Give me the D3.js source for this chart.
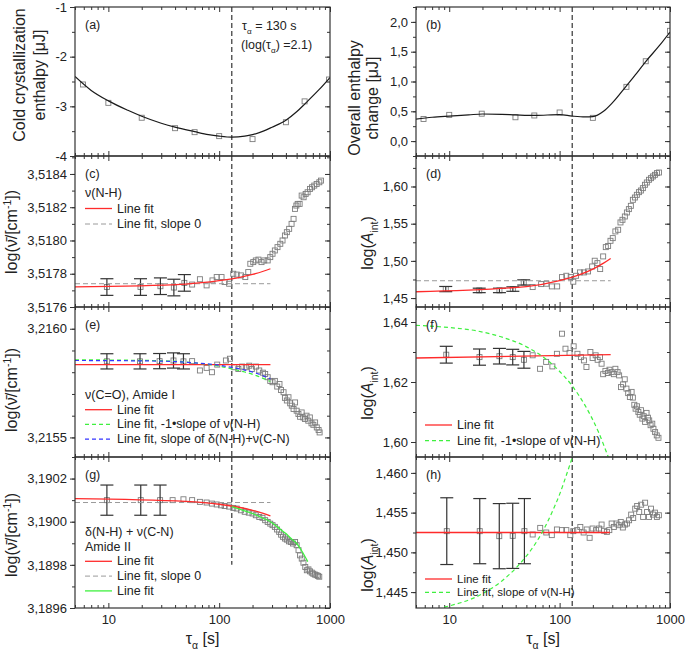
<!DOCTYPE html>
<html>
<head>
<meta charset="utf-8">
<script src="https://cdn.jsdelivr.net/npm/d3@7"></script>
<style>
  body { margin: 0; background: #fff; }
  svg { font-family: "Liberation Sans", Arial, sans-serif; }
</style>
</head>
<body>
<svg id="chart"></svg>
<script>
// ---- shared x axis ----
const tauDomain = [5, 1000];
const xMajor = [10, 100, 1000];
const tauAlpha = 130;

// ---- (a) cold crystallization enthalpy ----
const aTicks = [-4, -3, -2, -1];
const aPtsTau = [5.9, 10, 20, 40, 60, 100, 200, 400, 590, 980];
const aPtsVal = [-2.56, -2.93, -3.23, -3.44, -3.52, -3.60, -3.66, -3.32, -2.90, -2.46];
const aFitTau = [5, 7, 10, 15, 20, 30, 40, 60, 80, 100, 130, 170, 200, 250, 300, 400, 500, 600, 800, 1000];
const aFitVal = [-2.40, -2.68, -2.89, -3.08, -3.20, -3.34, -3.42, -3.51, -3.57, -3.60, -3.62, -3.60, -3.57, -3.50, -3.42, -3.28, -3.11, -2.94, -2.66, -2.42];

// ---- (b) overall enthalpy change ----
const bTicks = [0, 0.5, 1, 1.5, 2];
const bPtsTau = [5.85, 10, 19.7, 39.8, 59, 100, 200, 403, 603, 1000];
const bPtsVal = [0.37, 0.44, 0.46, 0.40, 0.43, 0.48, 0.39, 0.91, 1.34, 1.85];
const bFitTau = [5, 7, 10, 15, 20, 30, 40, 60, 100, 130, 170, 200, 250, 300, 400, 500, 600, 800, 1000];
const bFitVal = [0.37, 0.40, 0.42, 0.44, 0.455, 0.45, 0.44, 0.43, 0.445, 0.42, 0.405, 0.41, 0.50, 0.64, 0.92, 1.14, 1.33, 1.60, 1.83];

// ---- (c) nu(N-H) position ----
const cTicks = [3.5176, 3.5178, 3.518, 3.5182, 3.5184];
const cErrTau = [9.7, 19.5, 29.5, 39, 48.5];
const cErrVal = [3.51772, 3.51772, 3.517725, 3.517717, 3.517745];
const cErrBar = [0.00005, 0.00005, 0.00005, 0.00005, 0.00005];
const cPtsTau = [57, 67, 77, 87, 95, 105, 112, 123, 134, 144, 157, 172, 183, 191, 203, 214, 226, 241, 255, 274, 289, 303, 318, 336, 356, 373, 392, 408, 428, 450, 469, 483, 497, 511, 532, 555, 578, 603, 628, 660, 688, 721, 758, 801, 830];
const cPtsVal = [3.517735, 3.517767, 3.51773, 3.51776, 3.51778, 3.51778, 3.51775, 3.51774, 3.5178, 3.517795, 3.51779, 3.51778, 3.51781, 3.51786, 3.51787, 3.51788, 3.517885, 3.51787, 3.51788, 3.51788, 3.5179, 3.51792, 3.51794, 3.51796, 3.51798, 3.5180, 3.51803, 3.51805, 3.51807, 3.5181, 3.51813, 3.51819, 3.51821, 3.51822, 3.51822, 3.51827, 3.51826, 3.51828, 3.51829, 3.51831, 3.51832, 3.51833, 3.51834, 3.51835, 3.51836];
const cFitTau = [5, 50, 100, 150, 200, 250, 290];
const cFitVal = [3.517721, 3.517738, 3.517758, 3.517777, 3.517796, 3.517815, 3.51783];
const cZeroTau = [5, 290];
const cZeroVal = [3.51774, 3.51774];
const cLegend = ['ν(N-H)', 'Line fit', 'Line fit, slope 0'];

// ---- (d) nu(N-H) intensity ----
const dTicks = [1.45, 1.5, 1.55, 1.6];
const dErrTau = [9.3, 18.7, 28.5, 37.7, 47.3];
const dErrVal = [1.4621, 1.4603, 1.4603, 1.4621, 1.471];
const dErrBar = [0.0035, 0.003, 0.003, 0.003, 0.0035];
const dPtsTau = [57, 68, 76, 85, 95, 105, 115, 126, 133, 141, 153, 166, 181, 197, 208, 220, 233, 248, 262, 275, 289, 303, 320, 339, 356, 371, 390, 407, 424, 442, 461, 481, 501, 523, 545, 568, 593, 617, 645, 672, 700, 731, 762, 795];
const dPtsVal = [1.4648, 1.4688, 1.4693, 1.4657, 1.4657, 1.4782, 1.480, 1.4782, 1.472, 1.480, 1.4845, 1.4845, 1.4858, 1.4925, 1.5002, 1.497, 1.489, 1.506, 1.5185, 1.520, 1.527, 1.5306, 1.5396, 1.5418, 1.5517, 1.5552, 1.5597, 1.5651, 1.5696, 1.574, 1.5821, 1.5852, 1.5888, 1.5924, 1.5946, 1.5978, 1.6023, 1.6054, 1.609, 1.6112, 1.6135, 1.6157, 1.618, 1.6188];
const dFitTau = [5, 50, 100, 150, 200, 250, 290];
const dFitVal = [1.4585, 1.4655, 1.4733, 1.4812, 1.489, 1.497, 1.5033];
const dZeroTau = [5, 290];
const dZeroVal = [1.4733, 1.4733];

// ---- (e) nu(C=O) Amide I position ----
const eTicks = [3.2155, 3.216];
const eErrTau = [9.7, 19.3, 29, 38.7, 47.6];
const eErrVal = [3.21585, 3.21585, 3.215851, 3.215854, 3.21585];
const eErrBar = [0.000035, 0.000035, 0.000035, 0.000035, 0.000035];
const ePtsTau = [57, 67, 77, 86, 96, 115, 125, 137, 149, 161, 174, 187, 197, 215, 230, 248, 260, 274, 289, 303, 318, 334, 350, 361, 381, 392, 408, 422, 437, 452, 469, 484, 500, 519, 537, 555, 574, 594, 614, 637, 658, 681, 708, 734, 760, 789, 806];
const ePtsVal = [3.215851, 3.215808, 3.21582, 3.2158, 3.215835, 3.215854, 3.215862, 3.215823, 3.215815, 3.215826, 3.215823, 3.21583, 3.215815, 3.215826, 3.215808, 3.215798, 3.215792, 3.215777, 3.21576, 3.215754, 3.21576, 3.215734, 3.215746, 3.215718, 3.215708, 3.215682, 3.21567, 3.215685, 3.215657, 3.215646, 3.215631, 3.215661, 3.215623, 3.215608, 3.215595, 3.215615, 3.215592, 3.215585, 3.2156, 3.215577, 3.215592, 3.215565, 3.215558, 3.215569, 3.215546, 3.215534, 3.215523];
const eFitTau = [5, 290];
const eFitVal = [3.215835, 3.215835];
const eSlopeTau = [5, 30, 60, 100, 130, 170, 220, 290];
const eGreenVal = [3.215857, 3.215853, 3.215843, 3.215828, 3.215815, 3.215801, 3.215783, 3.215757];
const eBlueVal = [3.215854, 3.215851, 3.215843, 3.215832, 3.215822, 3.21581, 3.215794, 3.21577];
const eLegend = ['ν(C=O), Amide I', 'Line fit', 'Line fit, -1•slope of ν(N-H)', 'Line fit, slope of δ(N-H)+ν(C-N)'];

// ---- (f) nu(C=O) intensity ----
const fTicks = [1.6, 1.62, 1.64];
const fErrTau = [9.4, 18.8, 28.5, 37.6, 47.5];
const fErrVal = [1.6291, 1.6283, 1.6286, 1.6283, 1.6274];
const fErrBar = [0.0028, 0.0027, 0.0026, 0.0026, 0.0028];
const fPtsTau = [57, 66.5, 75.5, 86, 94.5, 105, 113, 123, 134, 145, 156, 166, 175, 190, 199, 212, 221, 232, 240, 248, 260, 273, 283, 296, 310, 320, 335, 346, 360, 376, 389, 403, 418, 433, 449, 461, 475, 488, 502, 517, 532, 546, 562, 578, 595, 613, 631, 648, 667, 691, 708, 733, 759, 786];
const fPtsVal = [1.6289, 1.6244, 1.6267, 1.6252, 1.6294, 1.6361, 1.6311, 1.6297, 1.6319, 1.6294, 1.6283, 1.6272, 1.625, 1.63, 1.628, 1.6289, 1.6274, 1.6283, 1.6261, 1.6226, 1.6237, 1.623, 1.6241, 1.6233, 1.6226, 1.6244, 1.6233, 1.6222, 1.6183, 1.6192, 1.6209, 1.6178, 1.6163, 1.615, 1.6167, 1.6148, 1.6124, 1.6111, 1.6119, 1.61, 1.6091, 1.6106, 1.6078, 1.6086, 1.6067, 1.6097, 1.6081, 1.6072, 1.6056, 1.6061, 1.6044, 1.6033, 1.6022, 1.6014];
const fFitTau = [5, 290];
const fFitVal = [1.628, 1.6291];
const fGreenTau = [5, 9, 18, 31, 48.5, 73, 96, 130, 170, 225, 276];
const fGreenVal = [1.6389, 1.6383, 1.637, 1.6348, 1.632, 1.628, 1.6242, 1.6187, 1.6122, 1.6033, 1.595];
const fLegend = ['Line fit', 'Line fit, -1•slope of ν(N-H)'];

// ---- (g) delta(N-H)+nu(C-N) Amide II position ----
const gTicks = [3.1896, 3.1898, 3.19, 3.1902];
const gErrTau = [9.7, 19.6, 29.3];
const gErrVal = [3.1901, 3.1901, 3.1901];
const gErrBar = [0.00007, 0.00007, 0.00007];
const gPtsTau = [38, 47.6, 57, 67, 77, 86, 95, 104, 112, 123, 134, 144, 157, 170, 185, 200, 214, 230, 246, 260, 274, 289, 303, 318, 333, 348, 362, 376, 392, 408, 426, 444, 464, 484, 500, 520, 537, 556, 576, 598, 618, 639, 660, 685, 706, 730, 756, 780, 800];
const gPtsVal = [3.1901, 3.190104, 3.1901, 3.190092, 3.190089, 3.190084, 3.19008, 3.190076, 3.190073, 3.19007, 3.190064, 3.190061, 3.190053, 3.190046, 3.190042, 3.190038, 3.19003, 3.190022, 3.190018, 3.190007, 3.189999, 3.189991, 3.189984, 3.189976, 3.189964, 3.189953, 3.18994, 3.18993, 3.189922, 3.189917, 3.189909, 3.189906, 3.189899, 3.189906, 3.189891, 3.189868, 3.189844, 3.189829, 3.18981, 3.18979, 3.189775, 3.189779, 3.18977, 3.189764, 3.189759, 3.189755, 3.189752, 3.189749, 3.189745];
const gFitTau = [5, 50, 100, 150, 200, 250, 290];
const gFitVal = [3.190107, 3.190094, 3.190081, 3.190067, 3.190053, 3.190039, 3.190027];
const gZeroTau = [5, 290];
const gZeroVal = [3.190089, 3.190089];
const gGreenTau = [130, 160, 200, 250, 290, 350, 400, 450, 500, 560, 630];
const gGreenVal = [3.19007, 3.190055, 3.190038, 3.190016, 3.19, 3.189968, 3.189945, 3.18992, 3.189899, 3.189862, 3.189815];
const gLegend = ['δ(N-H) + ν(C-N)', 'Amide II', 'Line fit', 'Line fit, slope 0', 'Line fit'];

// ---- (h) Amide II intensity ----
const hTicks = [1.445, 1.45, 1.455, 1.46];
const hErrTau = [9.5, 18.9, 28.4, 37.6, 48];
const hErrVal = [1.45267, 1.45267, 1.45204, 1.45208, 1.45267];
const hErrBar = [0.0042, 0.0041, 0.0041, 0.0041, 0.0041];
const hPtsTau = [57, 66.7, 75.7, 85, 94.5, 105, 115, 125, 133, 144, 154, 165, 176, 187, 199, 214, 227, 240, 253, 268, 282, 296, 310, 328, 343, 358, 374, 391, 408, 426, 445, 464, 484, 504, 526, 548, 571, 595, 620, 646, 673, 701, 730, 761, 793];
const hPtsVal = [1.45225, 1.45308, 1.4525, 1.45217, 1.45288, 1.4528, 1.4528, 1.45217, 1.45267, 1.4528, 1.4532, 1.4525, 1.45288, 1.45183, 1.453, 1.4528, 1.453, 1.4535, 1.45271, 1.45258, 1.4528, 1.45363, 1.4532, 1.45363, 1.45342, 1.45383, 1.45313, 1.4535, 1.45363, 1.45404, 1.45475, 1.45433, 1.4555, 1.45583, 1.45508, 1.456, 1.45446, 1.45625, 1.45508, 1.45446, 1.4555, 1.45475, 1.455, 1.45446, 1.45467];
const hFitTau = [5, 285];
const hFitVal = [1.4525, 1.4525];
const hGreenTau = [9, 20, 30, 40, 55, 70, 85, 100, 115, 132];
const hGreenVal = [1.4431, 1.4448, 1.4464, 1.448, 1.4503, 1.4526, 1.455, 1.4573, 1.4597, 1.4622];
const hLegend = ['Line fit', 'Line fit, slope of ν(N-H)'];

// ---------------------------------------------------------------
const W = 685, H = 651;
const svg = d3.select('#chart').attr('width', W).attr('height', H);
const ink = '#222';

const cols = [[75, 330], [416, 670]];
const rows = [[7, 156], [156, 307], [307, 457], [457, 608]];

const styles = {
  black: { color: '#1a1a1a', dash: null, w: 1.2 },
  red: { color: '#ff2b2b', dash: null, w: 1.3 },
  gray: { color: '#9a9a9a', dash: '5,3', w: 1 },
  green: { color: '#3ff03f', dash: '4,3', w: 1.2 },
  greenSolid: { color: '#3ff03f', dash: null, w: 1.3 },
  blue: { color: '#3535ff', dash: '4,3', w: 1.2 }
};

const locale = d3.formatLocale({ decimal: ',', thousands: '.', grouping: [3], currency: ['', ''], minus: '-' });

const zip = (a, b) => a.map((v, i) => [v, b[i]]);
const fit = (tau, val, s) => ({ data: zip(tau, val), s });
const errs = (tau, val, e) => tau.map((t, i) => ({ t, v: val[i], e: e[i] }));

// rich text: segments with optional italic / sub / sup
const richText = (sel, segs, size) => {
  let shift = 0;
  segs.forEach(s => {
    const target = s.sub ? size * 0.3 : s.sup ? -size * 0.38 : 0;
    const ts = sel.append('tspan').text(s.t).attr('dy', target - shift);
    shift = target;
    if (s.sub || s.sup) ts.attr('font-size', size * 0.65);
    if (s.it) ts.attr('font-style', 'italic');
  });
};

const nuTitle = [{ t: 'log(ν\u0304/[cm' }, { t: '-1', sup: true }, { t: '])' }];
const aTitle = [{ t: 'log(' }, { t: 'A', it: true }, { t: 'int', sub: true }, { t: ')' }];

const panels = [
  { id: 'a', col: 0, row: 0, domain: [-4, -1], ticks: aTicks, minorPer: 2, fmt: 'd',
    pts: zip(aPtsTau, aPtsVal), fits: [fit(aFitTau, aFitVal, 'black')],
    title: { lines: [[{ t: 'Cold crystallization' }], [{ t: 'enthalpy [μJ]' }]], xs: [25, 45], cy: 75 } },
  { id: 'b', col: 1, row: 0, domain: [-0.25, 2.25], ticks: bTicks, minorPer: 2, fmt: '.1f',
    pts: zip(bPtsTau, bPtsVal), fits: [fit(bFitTau, bFitVal, 'black')],
    title: { lines: [[{ t: 'Overall enthalpy' }], [{ t: 'change [μJ]' }]], xs: [360, 378], cy: 98 } },
  { id: 'c', col: 0, row: 1, domain: [3.5176, 3.518508], ticks: cTicks, minorPer: 2, fmt: '.4f',
    pts: zip(cPtsTau, cPtsVal), errs: errs(cErrTau, cErrVal, cErrBar),
    fits: [fit(cZeroTau, cZeroVal, 'gray'), fit(cFitTau, cFitVal, 'red')],
    legend: { x: 85, y: 193, dy: 15.5, size: 12.5, items: cLegend, s: [null, 'red', 'gray'] },
    title: { lines: [nuTitle], xs: [17], cy: 232 } },
  { id: 'd', col: 1, row: 1, domain: [1.438, 1.641], ticks: dTicks, minorPer: 2, fmt: '.2f',
    pts: zip(dPtsTau, dPtsVal), errs: errs(dErrTau, dErrVal, dErrBar),
    fits: [fit(dZeroTau, dZeroVal, 'gray'), fit(dFitTau, dFitVal, 'red')],
    title: { lines: [aTitle], xs: [373], cy: 243 } },
  { id: 'e', col: 0, row: 2, domain: [3.21541, 3.2161], ticks: eTicks, minorPer: 5, fmt: '.4f',
    pts: zip(ePtsTau, ePtsVal), errs: errs(eErrTau, eErrVal, eErrBar),
    fits: [fit(eFitTau, eFitVal, 'red'), fit(eSlopeTau, eGreenVal, 'green'), fit(eSlopeTau, eBlueVal, 'blue')],
    legend: { x: 85, y: 395, dy: 14.7, size: 12.5, items: eLegend, s: [null, 'red', 'green', 'blue'] },
    title: { lines: [nuTitle], xs: [17], cy: 390 } },
  { id: 'f', col: 1, row: 2, domain: [1.595, 1.645], ticks: fTicks, minorPer: 2, fmt: '.2f',
    pts: zip(fPtsTau, fPtsVal), errs: errs(fErrTau, fErrVal, fErrBar),
    fits: [fit(fFitTau, fFitVal, 'red'), fit(fGreenTau, fGreenVal, 'green')],
    legend: { x: 425, y: 425, dy: 15.7, size: 12.5, items: fLegend, s: ['red', 'green'] },
    title: { lines: [aTitle], xs: [373], cy: 393 } },
  { id: 'g', col: 0, row: 3, domain: [3.1896, 3.1903], ticks: gTicks, minorPer: 2, fmt: '.4f',
    pts: zip(gPtsTau, gPtsVal), errs: errs(gErrTau, gErrVal, gErrBar), vEnd: 3.1898,
    fits: [fit(gZeroTau, gZeroVal, 'gray'), fit(gFitTau, gFitVal, 'red'), fit(gGreenTau, gGreenVal, 'greenSolid')],
    legend: { x: 85, y: 531.7, dy: 14.8, size: 12.5, items: gLegend, s: [null, null, 'red', 'gray', 'greenSolid'] },
    title: { lines: [nuTitle], xs: [17], cy: 535 }, xLabels: true },
  { id: 'h', col: 1, row: 3, domain: [1.443, 1.462], ticks: hTicks, minorPer: 2, fmt: '.3f',
    pts: zip(hPtsTau, hPtsVal), errs: errs(hErrTau, hErrVal, hErrBar),
    fits: [fit(hFitTau, hFitVal, 'red'), fit(hGreenTau, hGreenVal, 'green')],
    legend: { x: 425, y: 579, dy: 13.3, size: 11.5, items: hLegend, s: ['red', 'green'] },
    title: { lines: [aTitle], xs: [373], cy: 565 }, xLabels: true }
];

const xMinor = [];
[1, 10, 100].forEach(dec => d3.range(2, 10).forEach(k => {
  const v = k * dec;
  if (v >= tauDomain[0] && v <= tauDomain[1]) xMinor.push(v);
}));

const styleAxis = g => {
  g.select('.domain').remove();
  g.selectAll('.tick line').attr('stroke', '#333').attr('stroke-width', 1);
  g.selectAll('.tick text').attr('fill', ink).attr('font-size', 13)
    .attr('font-family', '"Liberation Sans", Arial, sans-serif');
};

const drawPanel = p => {
  const [x0, x1] = cols[p.col];
  const [y0, y1] = rows[p.row];
  const x = d3.scaleLog().domain(tauDomain).range([x0, x1]);
  const y = d3.scaleLinear().domain(p.domain).range([y1, y0]);
  const g = svg.append('g').attr('class', 'panel-' + p.id);

  svg.append('clipPath').attr('id', 'clip-' + p.id)
    .append('rect').attr('x', x0).attr('y', y0).attr('width', x1 - x0).attr('height', y1 - y0);

  // minor y ticks
  const step = p.ticks[1] - p.ticks[0];
  const ms = step / p.minorPer;
  const k0 = Math.ceil(p.domain[0] / ms - 1e-6), k1 = Math.floor(p.domain[1] / ms + 1e-6);
  const yMinor = d3.range(k0, k1 + 1).map(k => k * ms);

  const fmt = p.fmt === 'd' ? (v => String(v)) : locale.format(p.fmt);

  // x axes (ticks inside)
  g.append('g').attr('transform', `translate(0,${y1})`)
    .call(d3.axisTop(x).tickValues(xMajor).tickSize(5).tickFormat('')).call(styleAxis);
  g.append('g').attr('transform', `translate(0,${y1})`)
    .call(d3.axisTop(x).tickValues(xMinor).tickSize(3).tickFormat('')).call(styleAxis);
  g.append('g').attr('transform', `translate(0,${y0})`)
    .call(d3.axisBottom(x).tickValues(xMajor).tickSize(5).tickFormat('')).call(styleAxis);
  g.append('g').attr('transform', `translate(0,${y0})`)
    .call(d3.axisBottom(x).tickValues(xMinor).tickSize(3).tickFormat('')).call(styleAxis);
  if (p.xLabels) {
    g.append('g').attr('transform', `translate(0,${y1})`)
      .call(d3.axisBottom(x).tickValues(xMajor).tickSize(0).tickPadding(7).tickFormat(d3.format('d')))
      .call(styleAxis);
  }

  // y axes: left outward with labels, right inward
  g.append('g').attr('transform', `translate(${x0},0)`)
    .call(d3.axisLeft(y).tickValues(p.ticks).tickSize(5).tickPadding(3).tickFormat(fmt)).call(styleAxis);
  g.append('g').attr('transform', `translate(${x0},0)`)
    .call(d3.axisLeft(y).tickValues(yMinor).tickSize(3).tickFormat('')).call(styleAxis);
  g.append('g').attr('transform', `translate(${x1},0)`)
    .call(d3.axisRight(y).tickValues(p.ticks).tickSize(-5).tickFormat('')).call(styleAxis);
  g.append('g').attr('transform', `translate(${x1},0)`)
    .call(d3.axisRight(y).tickValues(yMinor).tickSize(-3).tickFormat('')).call(styleAxis);

  const plot = g.append('g').attr('clip-path', `url(#clip-${p.id})`);

  // tau_alpha marker
  plot.append('line')
    .attr('x1', x(tauAlpha)).attr('x2', x(tauAlpha))
    .attr('y1', y0).attr('y2', p.vEnd !== undefined ? y(p.vEnd) : y1)
    .attr('stroke', ink).attr('stroke-width', 1.1).attr('stroke-dasharray', '5,3');

  // data squares
  const sq = 5;
  const allPts = p.pts.concat((p.errs || []).map(d => [d.t, d.v]));
  plot.selectAll('.pt').data(allPts).enter().append('rect')
    .attr('class', 'pt')
    .attr('x', d => x(d[0]) - sq / 2).attr('y', d => y(d[1]) - sq / 2)
    .attr('width', sq).attr('height', sq)
    .attr('fill', 'none').attr('stroke', '#7d7d7d').attr('stroke-width', 0.9);

  // error bars
  if (p.errs) {
    const eb = plot.selectAll('.err').data(p.errs).enter().append('g').attr('class', 'err')
      .attr('stroke', '#333').attr('stroke-width', 1.2);
    eb.append('line').attr('x1', d => x(d.t)).attr('x2', d => x(d.t))
      .attr('y1', d => y(d.v - d.e)).attr('y2', d => y(d.v + d.e));
    [-1, 1].forEach(sgn => {
      eb.append('line').attr('x1', d => x(d.t) - 6.5).attr('x2', d => x(d.t) + 6.5)
        .attr('y1', d => y(d.v + sgn * d.e)).attr('y2', d => y(d.v + sgn * d.e));
    });
  }

  // fitted curves
  const line = d3.line().x(d => x(d[0])).y(d => y(d[1])).curve(d3.curveMonotoneX);
  p.fits.forEach(f => {
    const st = styles[f.s];
    plot.append('path').datum(f.data).attr('d', line)
      .attr('fill', 'none').attr('stroke', st.color).attr('stroke-width', st.w)
      .attr('stroke-dasharray', st.dash);
  });

  // frame
  g.append('rect').attr('x', x0).attr('y', y0).attr('width', x1 - x0).attr('height', y1 - y0)
    .attr('fill', 'none').attr('stroke', '#333').attr('stroke-width', 1.2);

  // panel letter
  g.append('text').attr('x', x0 + 10).attr('y', y0 + 22).attr('font-size', 12.5).attr('fill', ink)
    .text('(' + p.id + ')');

  // legend
  if (p.legend) {
    const lg = p.legend;
    lg.items.forEach((label, i) => {
      const yy = lg.y + i * lg.dy;
      const s = lg.s[i];
      if (s) {
        const st = styles[s];
        g.append('line').attr('x1', lg.x).attr('x2', lg.x + 27).attr('y1', yy).attr('y2', yy)
          .attr('stroke', st.color).attr('stroke-width', st.w).attr('stroke-dasharray', st.dash);
      }
      g.append('text').attr('x', s ? lg.x + 32 : lg.x).attr('y', yy + 4)
        .attr('font-size', lg.size).attr('fill', ink).text(label);
    });
  }

  // y title
  p.title.lines.forEach((segs, i) => {
    const t = svg.append('text')
      .attr('transform', `translate(${p.title.xs[i]},${p.title.cy}) rotate(-90)`)
      .attr('text-anchor', 'middle').attr('font-size', 16).attr('fill', ink);
    richText(t, segs, 16);
  });

  // x title
  if (p.xLabels) {
    const t = svg.append('text').attr('x', (x0 + x1) / 2).attr('y', 644)
      .attr('text-anchor', 'middle').attr('font-size', 16).attr('fill', ink);
    richText(t, [{ t: 'τ' }, { t: 'α', sub: true }, { t: ' [s]' }], 16);
  }
};

panels.forEach(drawPanel);

// tau_alpha annotation in panel (a)
const ann1 = svg.append('text').attr('x', 242).attr('y', 30).attr('font-size', 12.5).attr('fill', ink);
richText(ann1, [{ t: 'τ' }, { t: 'α', sub: true }, { t: ' = ' + tauAlpha + ' s' }], 12.5);
const ann2 = svg.append('text').attr('x', 241).attr('y', 49).attr('font-size', 12.5).attr('fill', ink);
richText(ann2, [{ t: '(log(τ' }, { t: 'α', sub: true }, { t: ') =' + d3.format('.1f')(Math.log10(tauAlpha)) + ')' }], 12.5);
</script>
</body>
</html>
